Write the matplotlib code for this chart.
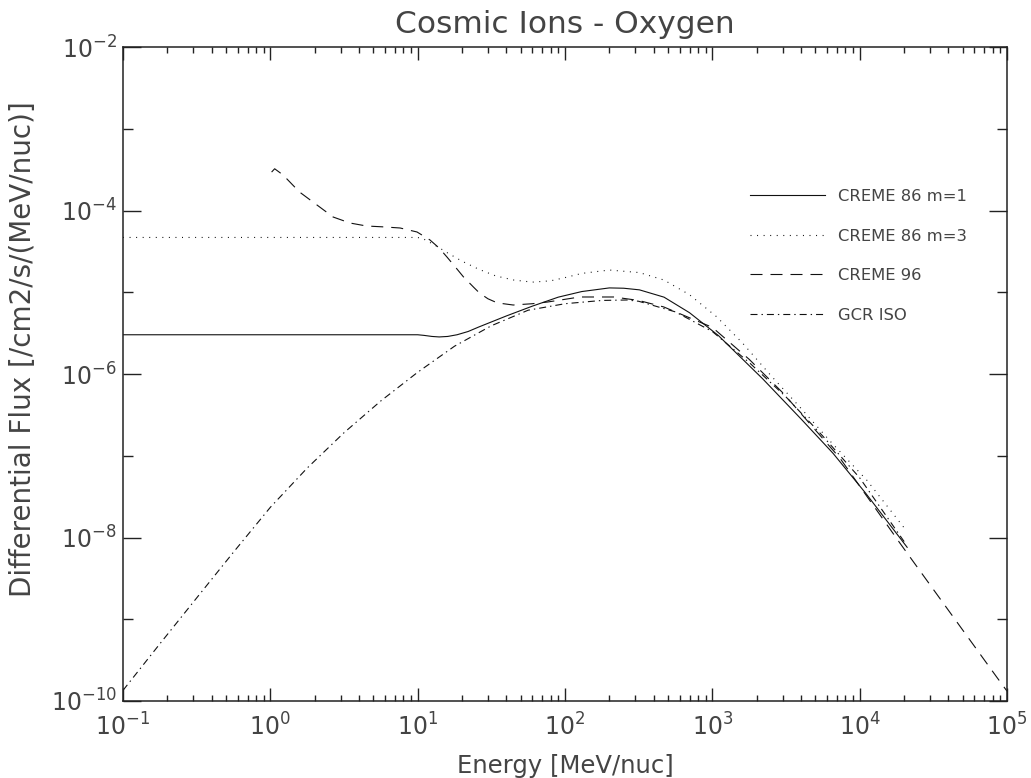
import numpy as np
import matplotlib
matplotlib.use("Agg")
import matplotlib.pyplot as plt
from matplotlib.ticker import FixedLocator, FuncFormatter, NullFormatter, LogLocator

plt.rcParams['font.family'] = ['DejaVu Sans']
plt.rcParams['mathtext.default'] = 'regular'

# Energy in MeV/nuc, differential flux in /cm2/s/(MeV/nuc)
creme86_m1_energy = [0.1, 10, 11, 12.5, 14, 16, 18.5, 22, 26, 40, 60, 90, 130, 200, 250,
                     320, 470, 700, 1100, 2200, 4000, 6600, 11000, 21000]
creme86_m1_flux = [3.02e-6, 3.02e-6, 2.97e-6, 2.88e-6, 2.84e-6, 2.88e-6, 3.02e-6, 3.31e-6,
                   3.76e-6, 5.13e-6, 6.76e-6, 8.71e-6, 1.02e-5, 1.13e-5, 1.12e-5, 1.07e-5,
                   8.71e-6, 5.62e-6, 2.95e-6, 8.71e-7, 2.82e-7, 1.07e-7, 3.47e-8, 7.59e-9]

creme86_m3_energy = [0.1, 10, 11, 13, 16, 20, 26, 34, 45, 60, 80, 100, 130, 200, 320, 470,
                     700, 1070, 1600, 2500, 4000, 6300, 11200, 20400]
creme86_m3_flux = [4.68e-5, 4.68e-5, 4.47e-5, 3.80e-5, 3.02e-5, 2.40e-5, 1.91e-5, 1.58e-5,
                   1.41e-5, 1.33e-5, 1.38e-5, 1.51e-5, 1.70e-5, 1.87e-5, 1.74e-5, 1.41e-5,
                   9.33e-6, 5.01e-6, 2.40e-6, 9.55e-7, 3.80e-7, 1.51e-7, 5.01e-8, 1.26e-8]

creme96_energy = [1.02, 1.07, 1.22, 1.58, 2.07, 2.67, 3.47, 4.5, 5.8, 7.6, 9.9, 12.1, 14,
                  15.8, 18, 20.4, 24, 26.3, 30, 34.7, 44.5, 60, 76, 126, 214, 316, 468,
                  1000, 1780, 3030, 7360, 18800, 40000, 85000, 100000]
creme96_flux = [2.95e-4, 3.24e-4, 2.72e-4, 1.68e-4, 1.17e-4, 8.32e-5, 7.03e-5, 6.46e-5,
                6.31e-5, 6.11e-5, 5.46e-5, 4.37e-5, 3.47e-5, 2.70e-5, 2.04e-5, 1.55e-5,
                1.15e-5, 9.77e-6, 8.32e-6, 7.41e-6, 6.98e-6, 7.24e-6, 7.59e-6, 8.75e-6,
                8.75e-6, 7.94e-6, 6.61e-6, 3.72e-6, 1.51e-6, 5.81e-7, 9.31e-8, 8.49e-9,
                1.29e-9, 1.97e-10, 1.32e-10]

gcr_iso_energy = [0.1, 0.178, 0.316, 0.562, 1.0, 1.78, 3.16, 5.62, 10, 17.8, 31.6, 56.2,
                  100, 178, 263, 316, 562, 1000, 1780, 3160, 5620, 10000, 20400]
gcr_iso_flux = [1.35e-10, 5.01e-10, 1.82e-9, 6.61e-9, 2.34e-8, 7.08e-8, 1.91e-7, 4.68e-7,
                1.05e-6, 2.19e-6, 3.89e-6, 6.03e-6, 7.24e-6, 7.94e-6, 8.04e-6, 7.76e-6,
                5.75e-6, 3.31e-6, 1.38e-6, 5.25e-7, 1.74e-7, 5.37e-8, 8.51e-9]

series_labels = ['CREME 86 m=1', 'CREME 86 m=3', 'CREME 96', 'GCR ISO']

ink = '#111111'
text_col = '#444444'

fig = plt.figure(figsize=(10.31, 7.78), dpi=100)
ax = fig.add_axes([123 / 1031, 1 - 701 / 778, 884 / 1031, 654 / 778])

# dash patterns are scaled by the line width
lw = 0.8
l1, = ax.plot(creme86_m1_energy, creme86_m1_flux, color=ink, lw=lw, linestyle='-')
l2, = ax.plot(creme86_m3_energy, creme86_m3_flux, color=ink, lw=lw, linestyle=(0, (0.9, 5)))
l3, = ax.plot(creme96_energy, creme96_flux, color=ink, lw=lw, linestyle=(0, (10.8, 7.2)))
l4, = ax.plot(gcr_iso_energy, gcr_iso_flux, color=ink, lw=lw,
              linestyle=(0, (6.3, 3.6, 1.25, 3.6)))

ax.set_xscale('log')
ax.set_yscale('log')
ax.set_xlim(1e-1, 1e5)
ax.set_ylim(1e-10, 1e-2)

# ticks: decades on x with 2..9 minors, every second decade labelled on y
ax.xaxis.set_major_locator(FixedLocator([10.0 ** k for k in range(-1, 6)]))
ax.xaxis.set_minor_locator(LogLocator(base=10, subs=np.arange(2, 10), numticks=20))
ax.yaxis.set_major_locator(FixedLocator([10.0 ** k for k in range(-10, -1, 2)]))
ax.yaxis.set_minor_locator(FixedLocator([10.0 ** k for k in range(-9, -2, 2)]))
pow_fmt = FuncFormatter(lambda v, p: '10$^{%d}$' % int(round(np.log10(v))))
ax.xaxis.set_major_formatter(pow_fmt)
ax.yaxis.set_major_formatter(pow_fmt)
ax.xaxis.set_minor_formatter(NullFormatter())
ax.yaxis.set_minor_formatter(NullFormatter())

ax.tick_params(axis='both', which='both', direction='in', top=True, right=True,
               colors='#222222', width=1.0, labelcolor=text_col)
ax.tick_params(axis='x', which='major', length=9.4, labelsize=17, pad=9)
ax.tick_params(axis='x', which='minor', length=4.3)
ax.tick_params(axis='y', which='major', length=13, labelsize=17, pad=4.5)
ax.tick_params(axis='y', which='minor', length=7.2)

for sp in ax.spines.values():
    sp.set_linewidth(1.1)
    sp.set_color('#222222')

ax.set_title('Cosmic Ions - Oxygen', fontsize=22.5, color=text_col, pad=10)
ax.set_xlabel('Energy [MeV/nuc]', fontsize=17.5, color=text_col)
ax.set_ylabel('Differential Flux [/cm2/s/(MeV/nuc)]', fontsize=20, color=text_col)
ax.xaxis.set_label_coords(0.5, -0.081)
ax.yaxis.set_label_coords(-0.097, 0.538)

ax.legend([l1, l2, l3, l4], series_labels, loc='upper left',
          bbox_to_anchor=(750 / 1031, 1 - 189 / 778), bbox_transform=fig.transFigure,
          frameon=False, fontsize=11.8, handlelength=4.6, handletextpad=0.75,
          labelspacing=1.5, borderpad=0, borderaxespad=0, labelcolor=text_col)

fig.savefig('out.png', dpi=100, facecolor='white')
